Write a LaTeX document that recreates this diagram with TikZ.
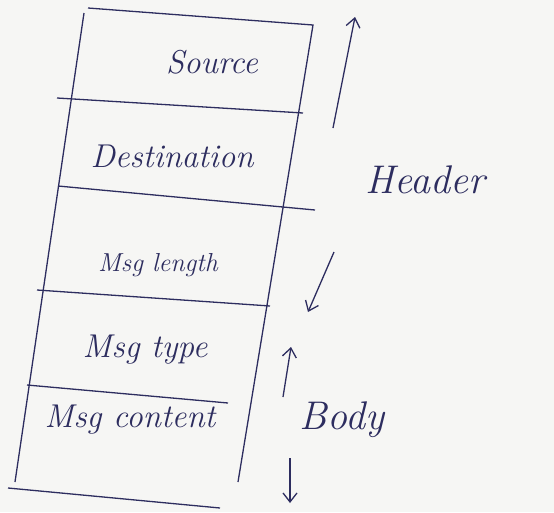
\documentclass[tikz,border=0pt]{standalone}
\usepackage{tikz}
\usetikzlibrary{arrows.meta}
\definecolor{ink}{RGB}{45,45,95}
\definecolor{paper}{RGB}{246,246,244}
\begin{document}
\begin{tikzpicture}[x=1pt,y=-1pt,>={Straight Barb[length=9pt,width=14pt]},line width=1.3pt,draw=ink,
  hand/.style={text=ink,font=\fontsize{33}{35}\selectfont\itshape},
  small/.style={hand,font=\fontsize{26}{28}\selectfont\itshape},
  big/.style={hand,font=\fontsize{40}{42}\selectfont\itshape}]
  \useasboundingbox (0,0) rectangle (554,512);
  \fill[paper] (0,0) rectangle (554,512);
  % frame
  \coordinate (tl) at (86,12);
  \coordinate (tr) at (313,25);
  \coordinate (br) at (238,482);
  \coordinate (bl) at (15,482);
  \draw[ink] (88,8) -- (tr) -- (br);
  \draw[ink] (84,13) -- (bl);
  \draw[ink] (8,488) -- (220,508);
  % field lines
  \draw[ink] (57,98) -- (303,113);
  \draw[ink] (58,186) -- (315,210);
  \draw[ink] (37,290) -- (270,306);
  \draw[ink] (27,385) -- (228,403);
  % fields
  \node[hand] (src) at (212,62) {Source};
  \node[hand] (dst) at (172,156) {Destination};
  \node[small] (len) at (158,265) {Msg length};
  \node[hand] (typ) at (145,350) {Msg type};
  \node[hand] (cnt) at (130,420) {Msg content};
  % sides
  \node[big] (hdr) at (425,180) {Header};
  \node[big] (bdy) at (342,420) {Body};
  \coordinate (hup0) at (333,128);
  \coordinate (hup1) at (355,17);
  \coordinate (hdn0) at (334,252);
  \coordinate (hdn1) at (308,312);
  \coordinate (bup0) at (283,397);
  \coordinate (bup1) at (291,347);
  \coordinate (bdn0) at (290,458);
  \coordinate (bdn1) at (290,503);
  \draw[->,ink] (hup0) -- (hup1);
  \draw[->,ink] (hdn0) -- (hdn1);
  \draw[->,ink] (bup0) -- (bup1);
  \draw[->,ink] (bdn0) -- (bdn1);
\end{tikzpicture}
\end{document}
